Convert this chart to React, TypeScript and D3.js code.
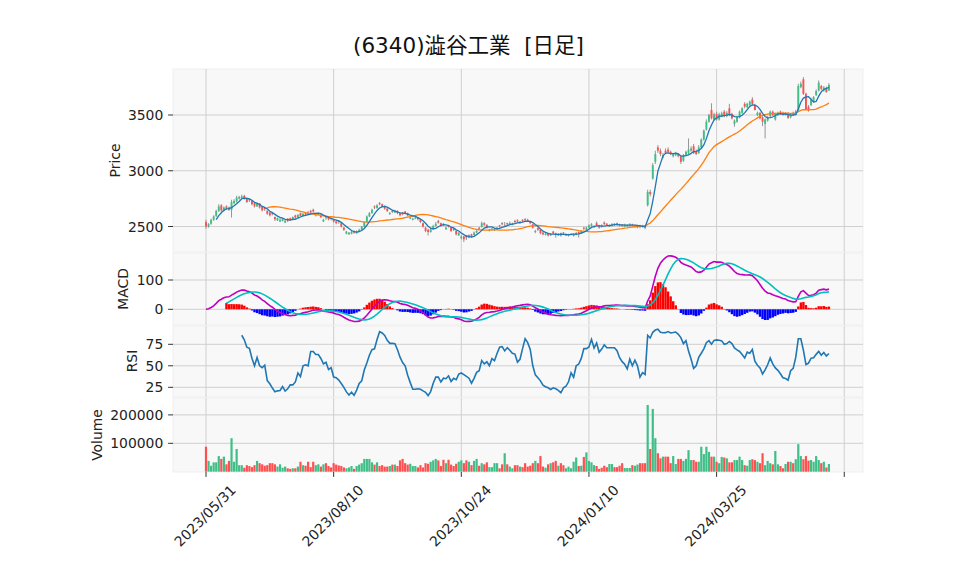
import React from 'react';
import * as d3 from 'd3';

const tickIdx = [0, 50, 100, 150, 200, 250];
const tickLabels = ['2023/05/31', '2023/08/10', '2023/10/24', '2024/01/10', '2024/03/25', ''];
const priceTicks = [2500, 3000, 3500];
const macdTicks = [0, 100];
const rsiTicks = [25, 50, 75];
const volTicks = [100000, 200000];

const opens = [
  2540,2500,2525,2560,2595,2640,2690,2645,2680,2670,
  2650,2710,2725,2750,2755,2775,2750,2745,2730,2710,
  2680,2705,2675,2665,2640,2625,2620,2585,2555,2545,
  2550,2535,2570,2575,2560,2600,2580,2620,2595,2620,
  2625,2640,2650,2600,2605,2605,2545,2590,2580,2575,
  2560,2545,2550,2530,2490,2435,2430,2435,2460,2440,
  2455,2470,2500,2540,2590,2620,2680,2665,2710,2700,
  2680,2660,2610,2640,2625,2640,2620,2625,2635,2620,
  2570,2560,2570,2580,2565,2530,2490,2470,2450,2475,
  2505,2550,2530,2525,2475,2510,2490,2480,2460,2420,
  2395,2410,2420,2400,2430,2425,2445,2490,2495,2530,
  2515,2460,2470,2465,2475,2510,2530,2500,2530,2520,
  2515,2550,2555,2530,2560,2565,2560,2545,2520,2450,
  2485,2470,2445,2425,2435,2420,2455,2440,2420,2440,
  2445,2420,2415,2425,2415,2425,2450,2440,2490,2470,
  2490,2505,2495,2530,2510,2510,2535,2525,2500,2505,
  2525,2530,2520,2515,2500,2500,2505,2520,2495,2490,
  2510,2505,2505,2690,2810,2930,3080,3210,3180,3120,
  3180,3190,3170,3130,3140,3150,3130,3090,3140,3160,
  3180,3220,3175,3160,3210,3280,3370,3440,3545,3460,
  3510,3460,3490,3530,3490,3560,3510,3420,3440,3480,
  3520,3600,3570,3590,3640,3590,3500,3520,3480,3420,
  3450,3490,3530,3460,3500,3530,3520,3500,3520,3480,
  3520,3500,3540,3750,3820,3690,3575,3590,3620,3680,
  3720,3760,3720,3745,3720,
];
const highs = [
  2560,2530,2570,2600,2650,2700,2700,2680,2690,2680,
  2740,2745,2775,2775,2785,2785,2760,2750,2735,2715,
  2715,2710,2680,2670,2645,2630,2625,2590,2580,2575,
  2575,2560,2575,2580,2590,2605,2610,2625,2620,2630,
  2640,2650,2660,2625,2625,2610,2570,2595,2585,2580,
  2565,2550,2555,2535,2495,2460,2450,2460,2465,2465,
  2480,2505,2545,2600,2630,2660,2690,2700,2720,2705,
  2690,2665,2630,2645,2650,2645,2625,2630,2640,2625,
  2590,2580,2590,2585,2570,2535,2495,2480,2485,2515,
  2540,2560,2535,2530,2500,2515,2495,2485,2465,2450,
  2420,2415,2425,2430,2435,2455,2470,2495,2545,2540,
  2520,2480,2490,2485,2495,2515,2540,2540,2535,2545,
  2535,2560,2565,2550,2565,2575,2570,2550,2525,2470,
  2490,2475,2450,2445,2440,2440,2460,2445,2440,2445,
  2450,2440,2435,2440,2440,2450,2455,2465,2495,2500,
  2520,2530,2510,2545,2515,2520,2545,2530,2520,2530,
  2530,2535,2525,2520,2525,2520,2530,2525,2515,2510,
  2515,2515,2510,2830,2830,3070,3180,3230,3200,3160,
  3200,3210,3180,3160,3170,3160,3140,3150,3180,3290,
  3220,3240,3190,3230,3290,3370,3460,3510,3605,3520,
  3530,3520,3530,3545,3535,3600,3520,3460,3490,3540,
  3570,3615,3610,3630,3660,3600,3530,3525,3490,3470,
  3490,3540,3540,3520,3530,3540,3530,3525,3525,3515,
  3530,3545,3780,3800,3840,3700,3590,3655,3670,3730,
  3810,3770,3760,3755,3785,
];
const lows = [
  2480,2490,2515,2550,2585,2630,2630,2635,2650,2640,
  2580,2700,2715,2740,2745,2740,2710,2720,2690,2670,
  2675,2660,2635,2640,2605,2590,2600,2550,2550,2540,
  2545,2530,2540,2550,2555,2570,2575,2590,2590,2600,
  2600,2615,2625,2590,2600,2575,2540,2560,2555,2555,
  2535,2520,2525,2490,2460,2430,2425,2430,2435,2435,
  2450,2465,2495,2535,2585,2615,2655,2660,2690,2670,
  2650,2630,2605,2620,2620,2610,2590,2600,2610,2590,
  2565,2555,2565,2555,2530,2490,2450,2420,2445,2470,
  2500,2525,2500,2505,2470,2490,2450,2460,2420,2415,
  2385,2360,2380,2395,2400,2420,2440,2470,2490,2505,
  2480,2455,2465,2460,2470,2490,2510,2495,2510,2515,
  2510,2530,2540,2525,2540,2545,2540,2520,2480,2440,
  2460,2430,2420,2420,2410,2415,2430,2400,2415,2410,
  2425,2415,2410,2420,2410,2420,2400,2435,2470,2465,
  2485,2500,2490,2505,2480,2490,2515,2505,2495,2500,
  2505,2510,2500,2495,2495,2495,2500,2500,2490,2485,
  2485,2490,2475,2680,2770,2920,3060,3160,3130,3110,
  3150,3160,3140,3120,3130,3120,3060,3080,3130,3150,
  3170,3150,3140,3150,3200,3270,3360,3430,3460,3450,
  3450,3450,3480,3480,3480,3490,3460,3395,3430,3470,
  3510,3560,3560,3580,3590,3540,3490,3460,3400,3290,
  3440,3480,3490,3450,3490,3500,3495,3495,3465,3470,
  3490,3495,3530,3740,3680,3545,3530,3580,3610,3670,
  3710,3720,3710,3700,3715,
];
const closes = [
  2500,2520,2560,2590,2640,2680,2645,2670,2660,2650,
  2720,2730,2760,2765,2770,2750,2720,2735,2700,2680,
  2705,2670,2645,2655,2615,2600,2610,2565,2575,2560,
  2570,2550,2550,2560,2585,2580,2605,2595,2615,2605,
  2610,2625,2635,2610,2620,2585,2560,2580,2565,2570,
  2545,2530,2540,2500,2470,2455,2445,2450,2445,2455,
  2470,2500,2540,2590,2620,2650,2670,2690,2700,2680,
  2660,2640,2620,2630,2640,2620,2600,2610,2620,2600,
  2580,2570,2580,2565,2540,2500,2460,2450,2475,2505,
  2525,2535,2505,2515,2490,2500,2460,2470,2430,2440,
  2410,2385,2400,2420,2410,2445,2460,2480,2530,2515,
  2490,2470,2480,2475,2490,2500,2520,2510,2520,2530,
  2525,2540,2545,2540,2550,2555,2550,2530,2490,2460,
  2470,2440,2430,2435,2420,2430,2440,2425,2430,2420,
  2435,2430,2425,2435,2430,2440,2435,2460,2480,2490,
  2510,2520,2500,2510,2490,2500,2520,2515,2510,2520,
  2515,2520,2510,2505,2515,2510,2520,2510,2505,2500,
  2495,2500,2490,2810,2790,3050,3150,3180,3150,3140,
  3160,3170,3150,3150,3155,3130,3080,3140,3170,3190,
  3200,3160,3150,3210,3280,3360,3440,3500,3470,3505,
  3460,3505,3515,3490,3520,3500,3470,3450,3480,3530,
  3560,3575,3600,3620,3600,3545,3520,3470,3440,3460,
  3480,3530,3500,3510,3520,3505,3500,3515,3475,3505,
  3500,3530,3760,3780,3690,3550,3540,3640,3660,3715,
  3790,3735,3745,3705,3770,
];
const volumesK = [
  88,38,21,33,33,55,45,53,26,38,
  118,35,80,23,23,14,23,20,16,23,
  38,30,26,21,23,30,30,26,18,26,
  14,18,12,10,12,12,18,35,23,21,
  35,16,35,23,26,18,26,30,20,15,
  30,25,22,20,15,12,15,20,10,20,
  25,30,45,45,45,33,25,33,20,23,
  18,18,20,25,25,20,40,45,30,25,
  28,20,20,15,23,15,30,28,35,40,
  45,40,20,42,30,42,25,20,28,35,
  40,30,40,35,23,38,45,21,30,26,
  33,16,16,30,30,12,26,65,26,18,
  12,23,23,18,16,30,18,21,30,38,
  30,55,18,14,26,30,33,38,21,30,
  23,12,18,12,35,50,20,21,52,68,
  38,33,23,20,10,14,21,16,27,27,
  16,16,21,30,13,13,13,23,21,25,
  30,30,30,235,80,221,118,65,47,53,
  53,53,30,55,27,45,45,38,45,76,
  41,41,35,35,88,62,88,70,53,53,
  35,30,52,50,47,33,33,41,41,53,
  41,23,21,41,44,41,35,30,65,23,
  38,30,26,73,26,20,12,27,35,35,
  30,44,97,55,44,55,39,41,35,55,
  41,30,35,15,27,
];

// ---- indicators computed from the closes ----
function sma(arr: number[], n: number): (number | null)[] {
  return arr.map((_, i) => (i < n - 1 ? null : (d3.mean(arr.slice(i - n + 1, i + 1)) as number)));
}
function ema(arr: number[], span: number): number[] {
  const a = 2 / (span + 1);
  const out: number[] = [];
  arr.forEach((v, i) => out.push(i === 0 ? v : a * v + (1 - a) * out[i - 1]));
  return out;
}

const W = 958;
const H = 575;
const X0 = 173;
const X1 = 863;
const P = {
  price: { top: 69, bottom: 252 },
  macd: { top: 253, bottom: 325 },
  rsi: { top: 326, bottom: 397 },
  vol: { top: 398, bottom: 472 },
};
const UP = '#3fbf87';
const DOWN = '#ff5050';
const GRID = '#cfcfcf';
const FONT = "'DejaVu Sans', 'Noto Sans CJK JP', sans-serif";
const FS = 13.9;

export default function App() {
  const n = closes.length;
  const idx = d3.range(n);
  const volumes = volumesK.map((v) => v * 1000);

  const ma5 = sma(closes, 5);
  const ma25 = sma(closes, 25);
  const ema12 = ema(closes, 12);
  const ema26 = ema(closes, 26);
  const macd = closes.map((_, i) => ema12[i] - ema26[i]);
  const signal = sma(macd, 9);
  const hist = macd.map((m, i) => (signal[i] == null ? null : m - (signal[i] as number)));
  const gains: number[] = [];
  const losses: number[] = [];
  for (let i = 1; i < n; i++) {
    const d = closes[i] - closes[i - 1];
    gains.push(Math.max(d, 0));
    losses.push(Math.max(-d, 0));
  }
  const rsi: (number | null)[] = idx.map((i) => {
    if (i < 14) return null;
    const g = d3.mean(gains.slice(i - 14, i)) as number;
    const l = d3.mean(losses.slice(i - 14, i)) as number;
    if (l === 0) return 100;
    return 100 - 100 / (1 + g / l);
  });

  const x = d3.scaleLinear().domain([0, 250]).range([206, 844.25]);
  const yP = d3.scaleLinear().domain([2500, 3500]).range([226.5, 115]);
  const yM = d3.scaleLinear().domain([0, 100]).range([309.3, 280]);
  const yR = d3.scaleLinear().domain([25, 75]).range([387.3, 344.3]);
  const yV = d3.scaleLinear().domain([0, 100000]).range([471.7, 443.3]);

  const lineOf = (vals: (number | null)[], ys: d3.ScaleLinear<number, number>) =>
    d3
      .line<number>()
      .defined((i) => vals[i] != null)
      .x((i) => x(i))
      .y((i) => ys(vals[i] as number))(idx) || '';

  const bw = 1.9;
  const vbw = 2.2;
  const hbw = 2.4;
  const keys = Object.keys(P) as (keyof typeof P)[];

  const hGrid = (k: string, ticks: number[], ys: d3.ScaleLinear<number, number>) =>
    ticks.map((t) => (
      <g key={'hg' + k + t}>
        <line x1={X0} x2={X1} y1={ys(t)} y2={ys(t)} stroke={GRID} strokeWidth={1} />
        <line x1={X0 - 4.9} x2={X0} y1={ys(t)} y2={ys(t)} stroke="#333" strokeWidth={1} />
        <text x={X0 - 9.7} y={ys(t)} dy="0.36em" textAnchor="end" fontSize={FS} fill="#222">
          {String(t)}
        </text>
      </g>
    ));

  const axisLabel = (label: string, cx: number, cy: number) => (
    <text
      key={'al' + label}
      transform={`translate(${cx},${cy}) rotate(-90)`}
      textAnchor="middle"
      dominantBaseline="central"
      fontSize={FS}
      fill="#222"
    >
      {label}
    </text>
  );

  return (
    <svg
      width={W}
      height={H}
      style={{ position: 'absolute', left: 0, top: 0, background: '#fff' }}
      fontFamily={FONT}
    >
      <defs>
        {keys.map((k) => (
          <clipPath id={'clip-' + k} key={'c' + k}>
            <rect x={X0} y={P[k].top} width={X1 - X0} height={P[k].bottom - P[k].top} />
          </clipPath>
        ))}
      </defs>
      <rect x={0} y={0} width={W} height={H} fill="#fff" />
      <text x={468.5} y={53} textAnchor="middle" fontSize={21.5} fill="#111" style={{ whiteSpace: 'pre' }}>
        {'(6340)澁谷工業  [日足]'}
      </text>

      {keys.map((k) => (
        <rect
          key={'bg' + k}
          x={X0}
          y={P[k].top}
          width={X1 - X0}
          height={P[k].bottom - P[k].top}
          fill="#f8f8f8"
          stroke="#ececec"
          strokeWidth={0.8}
        />
      ))}
      {keys.map((k) =>
        tickIdx.map((t) => (
          <line key={'vg' + k + t} x1={x(t)} x2={x(t)} y1={P[k].top} y2={P[k].bottom} stroke={GRID} strokeWidth={1} />
        ))
      )}
      {hGrid('price', priceTicks, yP)}
      {hGrid('macd', macdTicks, yM)}
      {hGrid('rsi', rsiTicks, yR)}
      {hGrid('vol', volTicks, yV)}

      {/* price panel */}
      <g clipPath="url(#clip-price)">
        {idx.map((i) => (
          <line
            key={'w' + i}
            x1={x(i)}
            x2={x(i)}
            y1={yP(highs[i])}
            y2={yP(lows[i])}
            stroke="#8a8a8a"
            strokeWidth={0.9}
          />
        ))}
        {idx.map((i) => {
          const up = closes[i] >= opens[i];
          const y1 = yP(Math.max(opens[i], closes[i]));
          const y2 = yP(Math.min(opens[i], closes[i]));
          return (
            <rect
              key={'b' + i}
              x={x(i) - bw / 2}
              y={y1}
              width={bw}
              height={Math.max(0.8, y2 - y1)}
              fill={up ? UP : DOWN}
            />
          );
        })}
        <path d={lineOf(ma25, yP)} fill="none" stroke="#ff7f0e" strokeWidth={1.3} />
        <path d={lineOf(ma5, yP)} fill="none" stroke="#1f77b4" strokeWidth={1.3} />
      </g>

      {/* MACD panel */}
      <g clipPath="url(#clip-macd)">
        {idx
          .filter((i) => hist[i] != null)
          .map((i) => {
            const h = hist[i] as number;
            const y0 = yM(0);
            const y1 = yM(h);
            return (
              <rect
                key={'h' + i}
                x={x(i) - hbw / 2}
                y={Math.min(y0, y1)}
                width={hbw}
                height={Math.abs(y1 - y0)}
                fill={h >= 0 ? '#ff0000' : '#0000ff'}
              />
            );
          })}
        <path d={lineOf(macd, yM)} fill="none" stroke="#bf00bf" strokeWidth={1.6} />
        <path d={lineOf(signal, yM)} fill="none" stroke="#00bfbf" strokeWidth={1.6} />
      </g>

      {/* RSI panel */}
      <g clipPath="url(#clip-rsi)">
        <path d={lineOf(rsi, yR)} fill="none" stroke="#1f77b4" strokeWidth={1.6} />
      </g>

      {/* Volume panel */}
      <g clipPath="url(#clip-vol)">
        {idx.map((i) => {
          const up = closes[i] >= opens[i];
          const y1 = yV(volumes[i]);
          return (
            <rect
              key={'v' + i}
              x={x(i) - vbw / 2}
              y={y1}
              width={vbw}
              height={yV(0) - y1}
              fill={up ? UP : DOWN}
            />
          );
        })}
      </g>

      {/* x axis ticks and labels */}
      {tickIdx.map((t, k) => (
        <g key={'xt' + t}>
          <line x1={x(t)} x2={x(t)} y1={P.vol.bottom} y2={P.vol.bottom + 4.9} stroke="#333" strokeWidth={1} />
          {tickLabels[k] && (
            <text
              transform={`translate(${x(t) - 1},${515.7}) rotate(-45)`}
              textAnchor="middle"
              dominantBaseline="central"
              fontSize={FS}
              fill="#222"
            >
              {tickLabels[k]}
            </text>
          )}
        </g>
      ))}

      {axisLabel('Price', 114.5, 160.5)}
      {axisLabel('MACD', 123, 289)}
      {axisLabel('RSI', 131.5, 361)}
      {axisLabel('Volume', 96.8, 435)}
    </svg>
  );
}
